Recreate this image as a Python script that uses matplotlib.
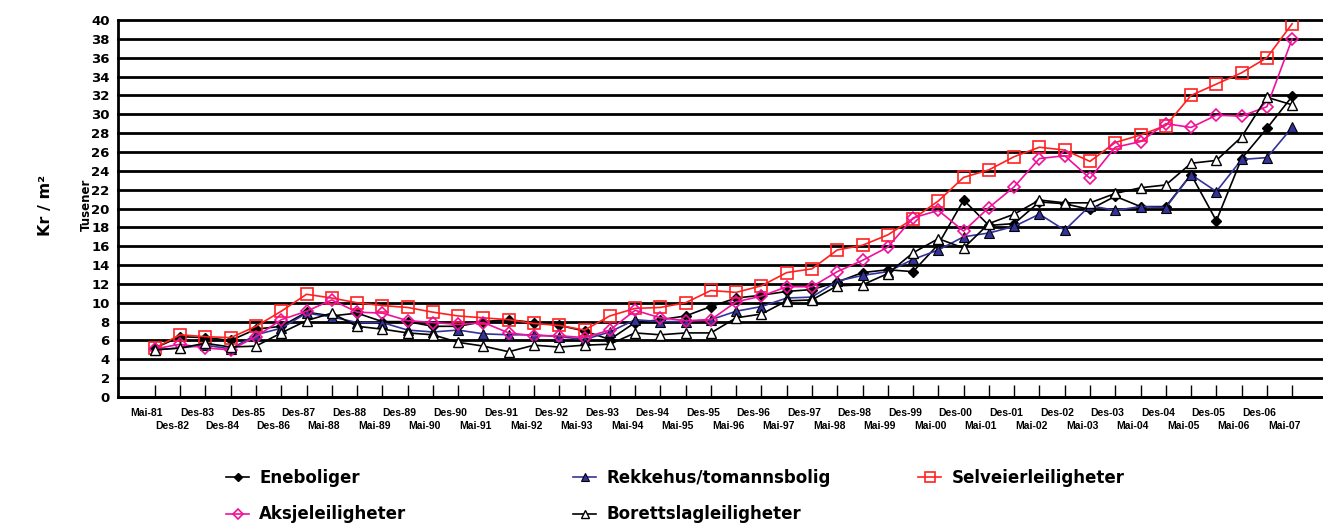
import matplotlib.pyplot as plt
from matplotlib.transforms import ScaledTranslation

# Kategorier (tidspunkt)
perioder = ['Mai-81', 'Des-82', 'Des-83', 'Des-84', 'Des-85', 'Des-86', 'Des-87', 'Mai-88',
            'Des-88', 'Mai-89', 'Des-89', 'Mai-90', 'Des-90', 'Mai-91', 'Des-91', 'Mai-92',
            'Des-92', 'Mai-93', 'Des-93', 'Mai-94', 'Des-94', 'Mai-95', 'Des-95', 'Mai-96',
            'Des-96', 'Mai-97', 'Des-97', 'Mai-98', 'Des-98', 'Mai-99', 'Des-99', 'Mai-00',
            'Des-00', 'Mai-01', 'Des-01', 'Mai-02', 'Des-02', 'Mai-03', 'Des-03', 'Mai-04',
            'Des-04', 'Mai-05', 'Des-05', 'Mai-06', 'Des-06', 'Mai-07']

# Pris per kvm (tusen kr)
eneboliger = [5.2, 6.4, 6.3, 6.0, 7.2, 7.5, 9.0, 8.6, 8.9, 8.0, 8.0, 7.5, 7.5, 8.0, 8.2, 7.9,
              7.6, 7.0, 6.1, 7.9, 8.2, 8.6, 9.6, 10.5, 10.8, 11.2, 11.4, 12.2, 13.2, 13.5,
              13.3, 16.2, 20.9, 18.2, 18.4, 20.7, 20.5, 19.9, 21.3, 20.2, 20.2, 23.6, 18.7,
              25.3, 28.5, 31.9]
rekkehus = [5.0, 5.2, 5.5, 5.1, 6.6, 7.3, 8.9, 8.5, 7.9, 7.9, 7.1, 6.9, 7.1, 6.7, 6.6, 6.6,
            6.4, 6.1, 6.9, 8.2, 8.0, 8.0, 8.2, 9.1, 9.6, 10.5, 10.6, 12.3, 12.9, 13.3, 14.6,
            15.6, 17.0, 17.4, 18.1, 19.4, 17.7, 20.3, 19.8, 20.2, 20.1, 23.6, 21.8, 25.2,
            25.4, 28.6]
selveier = [5.2, 6.6, 6.4, 6.3, 7.5, 9.1, 10.9, 10.5, 10.0, 9.7, 9.5, 9.0, 8.6, 8.4, 8.2,
            7.8, 7.6, 7.1, 8.6, 9.4, 9.5, 10.0, 11.3, 11.1, 11.8, 13.2, 13.6, 15.6, 16.1,
            17.2, 18.9, 20.8, 23.3, 24.1, 25.5, 26.5, 26.2, 25.0, 27.0, 27.8, 28.8, 32.0,
            33.2, 34.4, 36.0, 39.6]
aksje = [5.1, 5.6, 5.2, 5.0, 6.4, 8.2, 9.1, 10.3, 9.0, 8.9, 8.1, 7.9, 7.7, 7.9, 6.8, 6.5,
         6.5, 6.3, 7.1, 9.2, 8.4, 8.1, 8.2, 10.1, 10.7, 11.7, 11.7, 13.3, 14.5, 15.9, 19.0,
         19.8, 17.6, 20.1, 22.3, 25.3, 25.6, 23.2, 26.5, 27.1, 29.0, 28.6, 29.9, 29.8, 30.8,
         38.0]
borettslag = [5.0, 5.2, 5.7, 5.3, 5.4, 6.8, 8.1, 8.9, 7.5, 7.2, 6.8, 6.6, 5.8, 5.4, 4.8, 5.5,
              5.3, 5.5, 5.6, 6.8, 6.6, 6.8, 6.8, 8.4, 8.8, 10.2, 10.3, 11.8, 11.9, 13.1, 15.3,
              16.8, 15.8, 18.4, 19.4, 20.9, 20.6, 20.6, 21.6, 22.2, 22.5, 24.8, 25.1, 27.6,
              31.8, 31.0]

W, H = 1323, 526
fig = plt.figure(figsize=(W / 100, H / 100), dpi=100)
ax = fig.add_axes([118 / W, 1 - 397 / H, (W - 118) / W, 377 / H])

x = list(range(len(perioder)))

l_ene, = ax.plot(x, eneboliger, color='black', lw=1.2, marker='D', ms=5.5,
                 mfc='black', mec='black', label='Eneboliger')
l_rek, = ax.plot(x, rekkehus, color='#333399', lw=1.2, marker='^', ms=7,
                 mfc='#333399', mec='black', mew=0.8, label='Rekkehus/tomannsbolig')
l_sel, = ax.plot(x, selveier, color='#ff2020', lw=1.2, marker='s', ms=9,
                 mfc='none', mec='#ff2020', mew=1.2, label='Selveierleiligheter')
l_aks, = ax.plot(x, aksje, color='#f0109a', lw=1.2, marker='D', ms=6,
                 mfc='none', mec='#f0109a', mew=1.2, label='Aksjeleiligheter')
l_bor, = ax.plot(x, borettslag, color='black', lw=1.2, marker='^', ms=7.5,
                 mfc='white', mec='black', mew=1.0, label='Borettslagleiligheter')

ax.set_xlim(-1.46, 46.22)
ax.set_ylim(0, 40)
ax.set_yticks(range(0, 41, 2))
ax.set_yticklabels([str(v) for v in range(0, 41, 2)], fontsize=9.5,
                   fontweight='bold', family='DejaVu Sans')
ax.tick_params(axis='y', length=0, pad=6)

ax.grid(axis='y', color='black', lw=2)
ax.grid(axis='x', visible=False)
for gl in ax.get_ygridlines():
    gl.set_clip_on(False)
ax.set_axisbelow(True)

for s in ['top', 'right']:
    ax.spines[s].set_visible(False)
ax.spines['left'].set_linewidth(2)
ax.spines['bottom'].set_linewidth(2)

# to rader med etiketter: partall som hovedmerker, oddetall som hjelpemerker
ax.set_xticks(x[0::2])
ax.set_xticklabels(perioder[0::2], fontsize=7.5, fontweight='bold', family='Liberation Sans')
ax.set_xticks(x[1::2], minor=True)
ax.set_xticklabels(perioder[1::2], minor=True, fontsize=7.5, fontweight='bold',
                   family='Liberation Sans')
ax.tick_params(axis='x', which='major', direction='in', length=9, width=1, pad=8)
ax.tick_params(axis='x', which='minor', direction='in', length=9, width=1, pad=17.5)
flytt = ScaledTranslation(-8 / 100, 0, fig.dpi_scale_trans)
for lab in ax.get_xticklabels() + ax.get_xticklabels(minor=True):
    lab.set_transform(lab.get_transform() + flytt)

fig.text(45 / W, 1 - 205 / H, 'Kr / m²', rotation=90, ha='center', va='center',
         fontsize=11.5, fontweight='bold', family='DejaVu Sans')
fig.text(86 / W, 1 - 205 / H, 'Tusener', rotation=90, ha='center', va='center',
         fontsize=8.5, fontweight='bold', family='DejaVu Sans')

leg_kw = dict(loc='upper left', frameon=False, handlelength=1.4,
              handletextpad=0.6, borderpad=0, borderaxespad=0, labelspacing=1.1,
              prop={'weight': 'bold', 'size': 12, 'family': 'DejaVu Sans'})
for handles, xpos in [([l_ene, l_aks], 226), ([l_rek, l_bor], 573), ([l_sel], 918)]:
    lg = fig.legend(handles=handles, bbox_to_anchor=(xpos / W, 1 - 469 / H), **leg_kw)
    for h in lg.legend_handles:
        h.set_markersize(h.get_markersize() * 0.8)

fig.savefig('out.png', dpi=100)
